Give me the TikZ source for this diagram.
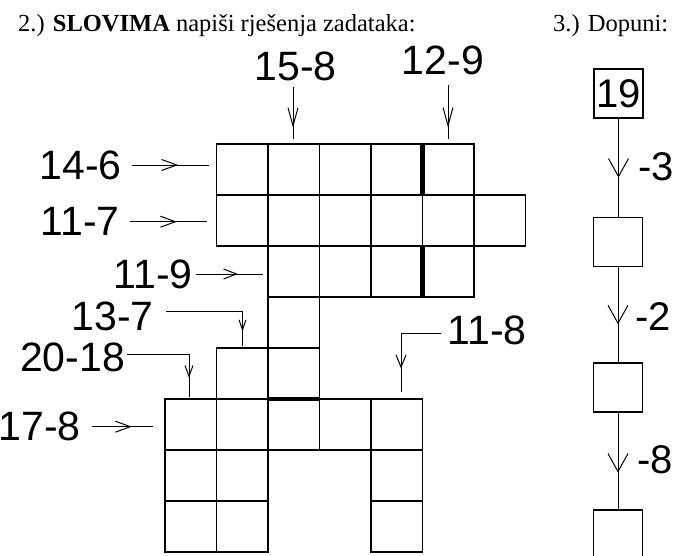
\documentclass[tikz,border=0pt]{standalone}
\usepackage{fontspec}
\setmainfont{Liberation Serif}
\newfontfamily\arialf{Liberation Sans}
\usetikzlibrary{arrows.meta,decorations.markings}
\tikzset{
  cellbox/.style={line width=1.2pt},
  thickline/.style={line width=4.5pt},
  conn/.style={line width=1pt},
  lbl/.style={inner sep=0pt,font=\arialf\fontsize{41}{41}\selectfont},
  rlbl/.style={inner sep=0pt,font=\arialf\fontsize{40}{40}\selectfont},
  chainbox/.style={draw,line width=1.2pt,minimum width=49pt,minimum height=49pt,inner sep=0pt,font=\arialf\fontsize{40}{40}\selectfont},
  midarr/.style 2 args={postaction={decorate},decoration={markings,mark=at position #1 with {\arrow{#2}}}},
  hd/.style={inner sep=0pt,anchor=base west,font=\fontsize{24.5}{24.5}\selectfont}
}
\begin{document}
\begin{tikzpicture}[x=1pt,y=-1pt]
\useasboundingbox (0,0) rectangle (686,555);
% header
\node[hd] (h2) at (18,31) {2.) \textbf{SLOVIMA} napiši rješenja zadataka:};
\node[hd] (h3) at (553,31) {3.) Dopuni:};
% grid cells: column index / row index
\foreach \i/\j in {1/0,2/0,3/0,4/0,5/0,
                   1/1,2/1,3/1,4/1,5/1,6/1,
                   2/2,3/2,4/2,5/2,
                   2/3,
                   1/4,2/4,
                   0/5,1/5,2/5,3/5,4/5,
                   0/6,1/6,4/6,
                   0/7,1/7,4/7}
  \draw[cellbox] ({165+51.5*\i},{144+51*\j}) rectangle ++(51.5,51);
% thick separators
\draw[thickline] (422.5,144) -- (422.5,195);
\draw[thickline] (422.5,246) -- (422.5,297);
\draw[thickline] (268,399) -- (319.5,399);
% labels
\node[lbl] (l158) at (295.5,66) {15-8};
\node[lbl] (l129) at (443,60.5) {12-9};
\node[lbl] (l146) at (80.5,165) {14-6};
\node[lbl] (l117) at (80,221) {11-7};
\node[lbl] (l119) at (153,274) {11-9};
\node[lbl] (l137) at (112.5,316) {13-7};
\node[lbl] (l2018) at (72.5,357.5) {20-18};
\node[lbl] (l178) at (39.5,426) {17-8};
\node[lbl] (l118) at (487,330) {11-8};
% arrow end coordinates
\coordinate (e158) at (293,138.5);
\coordinate (e129) at (448,138.5);
\coordinate (e146) at (209,165);
\coordinate (e117) at (207,221.7);
\coordinate (e119) at (262.7,274);
\coordinate (e137) at (242.5,345.7);
\coordinate (e2018) at (189,396.7);
\coordinate (e178) at (153.4,426.7);
\coordinate (e118) at (401,392);
% arrows
\draw[conn,midarr={0.79}{Straight Barb[length=18pt,width=10pt]}] (l158.south -| e158) ++(0,6) -- (e158);
\draw[conn,midarr={0.79}{Straight Barb[length=18pt,width=10pt]}] (l129.south -| e129) ++(0,10) -- (e129);
\draw[conn,midarr={0.6}{Straight Barb[length=15pt,width=11pt]}] ([xshift=10pt]l146.east |- e146) -- (e146);
\draw[conn,midarr={0.61}{Straight Barb[length=15pt,width=11pt]}] ([xshift=10pt]l117.east |- e117) -- (e117);
\draw[conn,midarr={0.63}{Straight Barb[length=13pt,width=10pt]}] ([xshift=3pt]l119.east |- e119) -- (e119);
\draw[conn,midarr={0.87}{Straight Barb[length=10pt,width=7pt]}] ([xshift=12pt]l137.east) ++(0,-4.3) -| (e137);
\draw[conn,midarr={0.82}{Straight Barb[length=11pt,width=8pt]}] ([xshift=2pt]l2018.east) ++(0,-3.5) -| (e2018);
\draw[conn,midarr={0.65}{Straight Barb[length=15pt,width=11pt]}] ([xshift=11pt]l178.east |- e178) -- (e178);
\draw[conn,midarr={0.76}{Straight Barb[length=12pt,width=10pt]}] ([xshift=-6pt]l118.west) ++(0,3.5) -| (e118);
% chain on the right
\node[chainbox] (b1) at (618.5,93.5) {19};
\node[chainbox] (b2) at (618,242) {};
\node[chainbox] (b3) at (618,387.5) {};
\node[chainbox] (b4) at (618,534.5) {};
\draw[conn,midarr={0.6}{Straight Barb[length=18pt,width=20pt]}] (b1.south) -- (b1.south |- b2.north);
\draw[conn,midarr={0.6}{Straight Barb[length=18pt,width=20pt]}] (b2) -- (b3);
\draw[conn,midarr={0.62}{Straight Barb[length=18pt,width=20pt]}] (b3) -- (b4);
\node[rlbl] (m3) at (656,167) {-3};
\node[rlbl] (m2) at (653,317) {-2};
\node[rlbl] (m8) at (655,460) {-8};
\end{tikzpicture}
\end{document}
